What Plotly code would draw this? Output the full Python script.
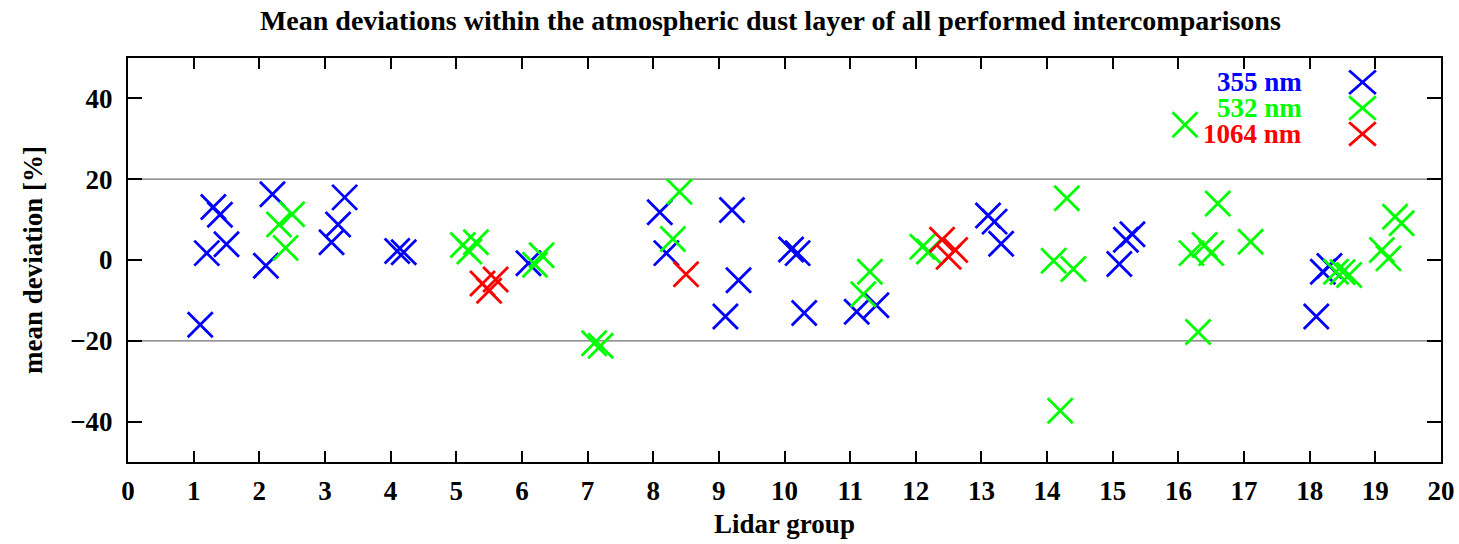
import plotly.graph_objects as go

# Mean deviation per lidar group, one list pair per wavelength
x_355 = [1.1, 1.2, 1.3, 1.4, 1.5, 2.1, 2.2, 3.1, 3.2, 3.3, 4.1, 4.2, 6.1, 8.1, 8.2,
         9.1, 9.2, 9.3, 10.1, 10.2, 10.3, 11.1, 11.4, 13.1, 13.2, 13.3,
         15.1, 15.2, 15.3, 18.1, 18.2, 18.3]
y_355 = [-16.0, 1.7, 13.1, 11.2, 3.9, -1.4, 16.3, 4.4, 8.8, 15.5, 2.2, 1.9, -0.8, 11.8, 1.7,
         -14.0, 12.4, -5.0, 2.6, 1.7, -13.1, -12.8, -11.2, 11.0, 9.5, 4.0,
         -1.0, 5.0, 6.4, -14.0, -2.9, -1.5]

x_532 = [2.3, 2.4, 2.5, 5.1, 5.2, 5.3, 6.2, 6.3, 7.1, 7.2, 8.3, 8.4, 11.2, 11.3,
         12.1, 12.2, 14.1, 14.2, 14.3, 14.4, 16.1, 16.2, 16.3, 16.4, 16.5, 16.6,
         17.1, 18.4, 18.5, 18.6, 19.1, 19.2, 19.3, 19.4]
y_532 = [8.8, 3.0, 11.3, 3.7, 2.1, 4.4, -1.2, 1.2, -20.6, -21.2, 5.2, 16.9, -8.5, -2.9,
         3.3, 2.1, -0.2, -37.3, 15.3, -2.2, 33.5, 1.7, -17.8, 3.7, 1.7, 14.0,
         4.5, -2.9, -3.0, -3.7, 2.5, 0.4, 10.7, 9.1]

x_1064 = [5.4, 5.5, 5.6, 8.5, 12.4, 12.5, 12.6]
y_1064 = [-5.8, -7.6, -4.8, -3.5, 5.0, 0.8, 2.5]

series = [
    ("355 nm", x_355, y_355, "#0000ff"),
    ("532 nm", x_532, y_532, "#00ff00"),
    ("1064 nm", x_1064, y_1064, "#ff0000"),
]

x_ticks = list(range(0, 21))
y_ticks = [-40, -20, 0, 20, 40]
grid_levels = [-20, 20]

SERIF = "Liberation Serif"

fig = go.Figure()
for name, xs, ys, color in series:
    fig.add_trace(go.Scatter(
        x=xs, y=ys, mode="markers", name=name, showlegend=False,
        marker=dict(symbol="x-thin", size=25, color=color,
                    line=dict(color=color, width=2.8)),
    ))

# horizontal reference lines at +/-20 %
for lv in grid_levels:
    fig.add_shape(type="line", xref="paper", x0=0, x1=1, yref="y", y0=lv, y1=lv,
                  line=dict(color="#707070", width=1.2), layer="below")

# key: coloured label on the left, cross symbol on the right
key_rows = [0.940, 0.876, 0.812]
for (name, _, _, color), ky in zip(series, key_rows):
    fig.add_annotation(xref="paper", yref="paper", x=0.896, y=ky, text=name,
                       showarrow=False, xanchor="right", yanchor="middle",
                       font=dict(family=SERIF, size=27, color=color, weight="bold"))
    cx, hw, hh = 0.9402, 0.0102, 0.029
    for sgn in (1, -1):
        fig.add_shape(type="line", xref="paper", yref="paper",
                      x0=cx - hw, x1=cx + hw, y0=ky - sgn * hh, y1=ky + sgn * hh,
                      line=dict(color=color, width=2.8))

axis_font = dict(family=SERIF, size=27, color="black", weight="bold")

fig.update_layout(
    width=1459, height=544,
    margin=dict(l=128, r=18, t=58, b=82),
    paper_bgcolor="white", plot_bgcolor="white",
    title=dict(text="Mean deviations within the atmospheric dust layer of all performed intercomparisons",
               x=0.528, xanchor="center", y=0.963, yanchor="middle",
               font=dict(family=SERIF, size=28, color="black", weight="bold")),
    xaxis=dict(range=[0, 20], tickvals=x_ticks, ticks="inside", ticklen=11,
               tickwidth=1.5, tickcolor="black", showgrid=False, zeroline=False,
               showline=True, linecolor="black", linewidth=2, mirror="ticks",
               tickfont=axis_font, ticklabelstandoff=4, automargin=False,
               title=dict(text="Lidar group", font=axis_font, standoff=9)),
    yaxis=dict(range=[-50, 50], tickvals=y_ticks, ticks="inside", ticklen=14,
               tickwidth=1.5, tickcolor="black", showgrid=False, zeroline=False,
               showline=True, linecolor="black", linewidth=2, mirror="ticks",
               tickfont=axis_font, ticklabelstandoff=8, automargin=False,
               title=dict(text="mean deviation [%]", font=axis_font, standoff=20)),
)

fig.write_html("out.html")
